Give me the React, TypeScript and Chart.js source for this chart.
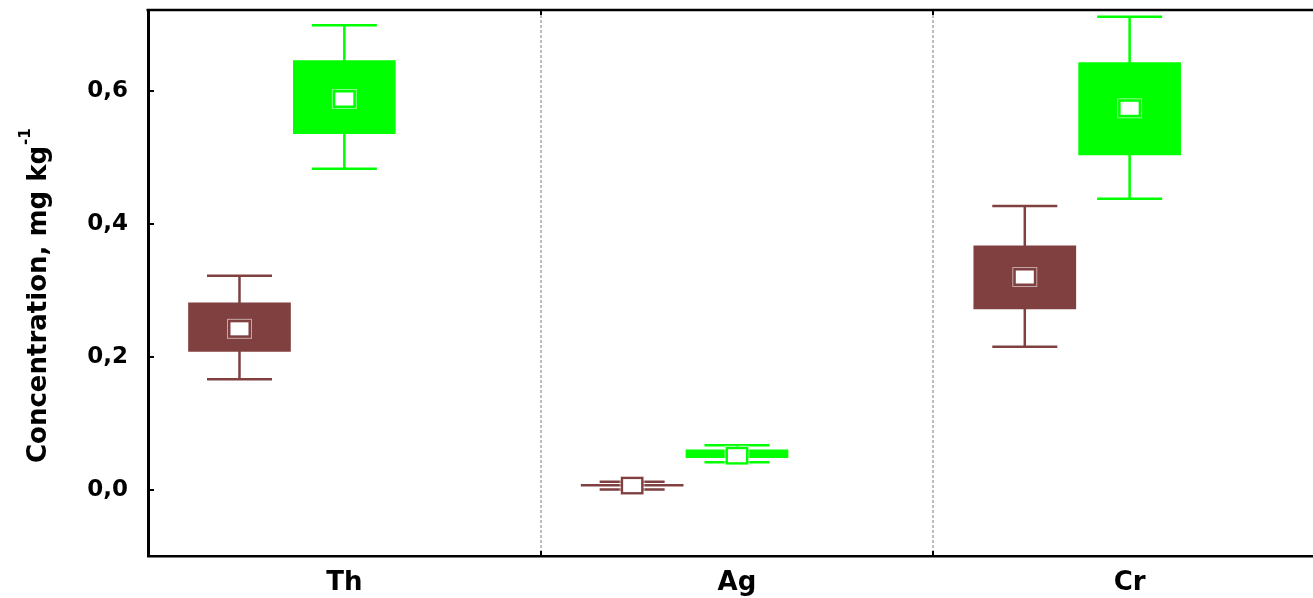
import React, { useEffect, useRef } from 'react';
import { Chart, registerables } from 'chart.js';

Chart.register(...registerables);

// ---- data ----
const categories = ['Th', 'Ag', 'Cr'];
const yTicks = [0, 0.2, 0.4, 0.6];
const gridBetween = [0.5, 1.5];

// brown group
const brownMean = [0.242, 0.006, 0.320];
const brownBoxLo = [0.208, 0.005, 0.272];
const brownBoxHi = [0.281, 0.008, 0.367];
const brownWhiskerLo = [0.166, 0.0, 0.215];
const brownWhiskerHi = [0.322, 0.0116, 0.427];

// green group
const greenMean = [0.588, 0.051, 0.574];
const greenBoxLo = [0.536, 0.048, 0.504];
const greenBoxHi = [0.646, 0.060, 0.643];
const greenWhiskerLo = [0.483, 0.041, 0.438];
const greenWhiskerHi = [0.699, 0.0666, 0.712];

// ---- styling / layout ----
const BROWN = '#804040';
const GREEN = '#00ff00';
const FONT = 'DejaVu Sans';
const BROWN_OFFSET = -0.267;
const GREEN_OFFSET = 0;
const X_MIN = -0.5;
const X_MAX = 2.467;
const Y_MIN = -0.1;
const Y_MAX = 0.722;

export default function App() {
  const ref = useRef<HTMLCanvasElement>(null);

  useEffect(() => {
    if (!ref.current) return;
    const groups = [
      { color: BROWN, offset: BROWN_OFFSET, mean: brownMean, lo: brownBoxLo, hi: brownBoxHi, wlo: brownWhiskerLo, whi: brownWhiskerHi },
      { color: GREEN, offset: GREEN_OFFSET, mean: greenMean, lo: greenBoxLo, hi: greenBoxHi, wlo: greenWhiskerLo, whi: greenWhiskerHi },
    ];

    const decor = {
      id: 'decor',
      beforeDatasetsDraw(chart: any) {
        const { ctx, chartArea: a, scales } = chart;
        const x = scales.x, y = scales.y;
        ctx.save();
        // dotted separators
        ctx.strokeStyle = '#bdbdbd';
        ctx.lineWidth = 2;
        ctx.setLineDash([3, 2]);
        for (const g of gridBetween) {
          const px = Math.round(x.getPixelForValue(g));
          ctx.beginPath();
          ctx.moveTo(px, a.top);
          ctx.lineTo(px, a.bottom);
          ctx.stroke();
        }
        ctx.setLineDash([]);
        // whiskers
        ctx.lineWidth = 2.5;
        for (const g of groups) {
          ctx.strokeStyle = g.color;
          categories.forEach((_, i) => {
            const cx = x.getPixelForValue(i + g.offset);
            const yt = y.getPixelForValue(g.whi[i]);
            const yb = y.getPixelForValue(g.wlo[i]);
            ctx.beginPath();
            ctx.moveTo(cx, yt);
            ctx.lineTo(cx, yb);
            ctx.moveTo(cx - 32.5, yt);
            ctx.lineTo(cx + 32.5, yt);
            ctx.moveTo(cx - 32.5, yb);
            ctx.lineTo(cx + 32.5, yb);
            ctx.stroke();
          });
        }
        ctx.restore();
      },
      afterDatasetsDraw(chart: any) {
        const { ctx, scales } = chart;
        const x = scales.x, y = scales.y;
        ctx.save();
        for (const g of groups) {
          categories.forEach((_, i) => {
            const cx = x.getPixelForValue(i + g.offset);
            const cy = y.getPixelForValue(g.mean[i]);
            ctx.fillStyle = g.color;
            ctx.fillRect(cx - 11.5, cy - 9, 23, 18);
            ctx.fillStyle = '#ffffff';
            ctx.fillRect(cx - 9, cy - 6.5, 18, 13);
            ctx.strokeStyle = 'rgba(255,255,255,0.55)';
            ctx.lineWidth = 1;
            ctx.strokeRect(cx - 12, cy - 9.5, 24, 19);
          });
        }
        ctx.restore();
      },
      afterDraw(chart: any) {
        const { ctx, chartArea: a, scales } = chart;
        const x = scales.x, y = scales.y;
        ctx.save();
        // top frame
        ctx.strokeStyle = '#000';
        ctx.lineWidth = 2.5;
        ctx.beginPath();
        ctx.moveTo(a.left - 1.5, a.top);
        ctx.lineTo(a.right, a.top);
        ctx.stroke();
        // inward tick marks
        ctx.lineWidth = 2;
        for (const v of yTicks) {
          const py = Math.round(y.getPixelForValue(v));
          ctx.beginPath();
          ctx.moveTo(a.left, py);
          ctx.lineTo(a.left + 6, py);
          ctx.stroke();
        }
        for (const g of gridBetween) {
          const px = Math.round(x.getPixelForValue(g));
          ctx.beginPath();
          ctx.moveTo(px, a.top);
          ctx.lineTo(px, a.top + 5);
          ctx.moveTo(px, a.bottom);
          ctx.lineTo(px, a.bottom - 5);
          ctx.stroke();
        }
        // y title with superscript
        ctx.fillStyle = '#000';
        ctx.translate(46, 463);
        ctx.rotate(-Math.PI / 2);
        ctx.textBaseline = 'alphabetic';
        ctx.textAlign = 'left';
        ctx.font = `bold 26px "${FONT}"`;
        const main = 'Concentration, mg kg';
        ctx.fillText(main, 0, 0);
        const w = ctx.measureText(main).width;
        ctx.font = `bold 15px "${FONT}"`;
        ctx.fillText('-1', w + 1, -16);
        ctx.restore();
      },
    };

    const chart = new Chart(ref.current, {
      type: 'bar',
      data: {
        datasets: [
          {
            label: 'brown',
            data: categories.map((_, i) => ({ x: i + BROWN_OFFSET, y: [brownBoxLo[i], brownBoxHi[i]] })) as any,
            backgroundColor: BROWN,
            borderWidth: 0,
            barThickness: 102,
            grouped: false,
          } as any,
          {
            label: 'green',
            data: categories.map((_, i) => ({ x: i + GREEN_OFFSET, y: [greenBoxLo[i], greenBoxHi[i]] })) as any,
            backgroundColor: GREEN,
            borderWidth: 0,
            barThickness: 102,
            grouped: false,
          } as any,
        ],
      },
      options: {
        responsive: false,
        animation: false,
        layout: { padding: { top: 10, right: 0, left: 0, bottom: 0 } },
        plugins: { legend: { display: false }, tooltip: { enabled: false }, title: { display: false } },
        scales: {
          x: {
            type: 'linear',
            offset: false,
            min: X_MIN,
            max: X_MAX,
            afterBuildTicks: (axis: any) => {
              axis.ticks = categories.map((_, i) => ({ value: i }));
            },
            afterFit: (axis: any) => {
              axis.height = 42;
            },
            grid: { display: true, drawOnChartArea: false, drawTicks: true, tickLength: 12, color: 'rgba(0,0,0,0)' },
            border: { display: true, color: '#000', width: 2.5 },
            ticks: {
              autoSkip: false,
              maxRotation: 0,
              padding: 0,
              color: '#000',
              font: { family: FONT, size: 26, weight: 'bold' },
              callback: (v: any) => categories[Math.round(Number(v))] ?? '',
            },
          },
          y: {
            type: 'linear',
            min: Y_MIN,
            max: Y_MAX,
            afterBuildTicks: (axis: any) => {
              axis.ticks = yTicks.map((v) => ({ value: v }));
            },
            afterFit: (axis: any) => {
              axis.width = 148;
            },
            grid: { display: true, drawOnChartArea: false, drawTicks: true, tickLength: 20, color: 'rgba(0,0,0,0)' },
            border: { display: true, color: '#000', width: 3 },
            ticks: {
              padding: 0,
              color: '#000',
              font: { family: FONT, size: 23, weight: 'bold', lineHeight: 0.8 },
              callback: (v: any) => Number(v).toFixed(1).replace('.', ','),
            },
          },
        },
      },
      plugins: [decor],
    } as any);

    return () => chart.destroy();
  }, []);

  return (
    <div style={{ position: 'absolute', left: 0, top: 0, width: 1313, height: 598, background: '#fff' }}>
      <canvas ref={ref} width={1313} height={598} style={{ display: 'block' }} />
    </div>
  );
}
